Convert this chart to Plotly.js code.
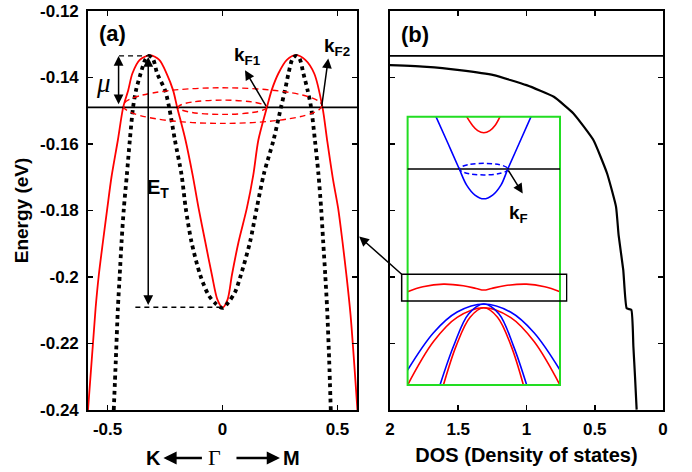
<!DOCTYPE html>
<html><head><meta charset="utf-8">
<script src="https://cdn.plot.ly/plotly-3.0.1.min.js"></script>
<style>html,body{margin:0;padding:0;background:#fff}</style>
</head><body><div id="chart" style="width:692px;height:472px"></div>
<script>
// ---------- Panel (a): band structure ----------
const redK = [-0.585,-0.552,-0.538,-0.520,-0.501,-0.483,-0.455,-0.432,-0.410,-0.392,-0.360,-0.315,-0.275,-0.243,-0.215,-0.197,-0.161,-0.130,-0.104,-0.075,-0.046,-0.022,0,0.022,0.041,0.070,0.106,0.134,0.156,0.193,0.214,0.243,0.280,0.320,0.360,0.399,0.435,0.455,0.481,0.503,0.522,0.539,0.557,0.587];
const redE = [-0.240,-0.2094,-0.1994,-0.1894,-0.1793,-0.1700,-0.1588,-0.1490,-0.1438,-0.1388,-0.1347,-0.1333,-0.1347,-0.1388,-0.1438,-0.1490,-0.1588,-0.1693,-0.1793,-0.1894,-0.1994,-0.2068,-0.2092,-0.2068,-0.1994,-0.1894,-0.1793,-0.1693,-0.1588,-0.1490,-0.1438,-0.1388,-0.1347,-0.1333,-0.1347,-0.1388,-0.1490,-0.1588,-0.1708,-0.1793,-0.1894,-0.1994,-0.2114,-0.240];

const dotK = [-0.473,-0.464,-0.455,-0.447,-0.439,-0.429,-0.416,-0.403,-0.389,-0.376,-0.356,-0.335,-0.320,-0.302,-0.284,-0.250,-0.232,-0.207,-0.178,-0.160,-0.135,-0.097,-0.061,-0.030,0,0.026,0.055,0.080,0.120,0.149,0.180,0.222,0.255,0.272,0.287,0.305,0.320,0.335,0.352,0.370,0.385,0.402,0.417,0.429,0.438,0.447,0.455,0.464,0.471];
const dotE = [-0.240,-0.225,-0.2094,-0.1994,-0.1894,-0.1793,-0.1693,-0.1588,-0.1490,-0.1438,-0.1388,-0.1345,-0.1335,-0.1345,-0.1388,-0.1438,-0.1490,-0.1588,-0.1693,-0.1793,-0.1894,-0.1994,-0.2054,-0.2080,-0.2093,-0.2076,-0.2045,-0.1994,-0.1894,-0.1793,-0.1690,-0.1588,-0.1488,-0.1438,-0.1388,-0.1343,-0.1335,-0.1343,-0.1388,-0.1438,-0.1488,-0.1588,-0.1688,-0.1793,-0.1894,-0.1994,-0.2094,-0.225,-0.240];

const EF = -0.149;           // Fermi level line
const bandTop = -0.1335;     // band maximum
const bandBottom = -0.2091;  // band minimum at Gamma
const muGuideK = [-0.45, -0.313];
const etGuideK = [-0.379, 0];
const muArrowK = -0.452;
const etArrowK = -0.323;
const ellipseHalfK = [0.432, 0.192];
const ellipseTopE = [-0.1431, -0.1468];
const ellipseBotE = [-0.1538, -0.1511];

const kRange = [-0.585, 0.585];
const kTicks = [-0.5, 0, 0.5];
const kTickText = ['-0.5', '0', '0.5'];
const eRange = [-0.24, -0.12];
const eTicks = [-0.24, -0.22, -0.2, -0.18, -0.16, -0.14, -0.12];
const eTickText = ['-0.24', '-0.22', '-0.2', '-0.18', '-0.16', '-0.14', '-0.12'];

// ---------- Panel (b): DOS ----------
const dosX = [2.0, 1.73, 1.49, 1.24, 1.0, 0.80, 0.656, 0.51, 0.41, 0.344, 0.325, 0.291, 0.266, 0.232, 0.217, 0.205, 0.193];
const dosE = [-0.1363, -0.1368, -0.1378, -0.1393, -0.1423, -0.1458, -0.1508, -0.1588, -0.1688, -0.1789, -0.1875, -0.1979, -0.2094, -0.2099, -0.2209, -0.2300, -0.2399];
const dosTicks = [2, 1.5, 1, 0.5, 0];
const dosTickText = ['2', '1.5', '1', '0.5', '0'];
const dosRange = [2, 0];

// ---------- Inset (schematic units) ----------
const insTopRedU = [-0.225, -0.15, -0.08, 0, 0.08, 0.15, 0.213];
const insTopRedV = [10, 9.68, 9.48, 9.40, 9.48, 9.68, 10];
const insBlueU = [-0.628, -0.471, -0.322, -0.225, -0.116, 0, 0.116, 0.225, 0.315, 0.465, 0.62];
const insBlueV = [10, 9.01, 8.05, 7.45, 7.08, 6.94, 7.08, 7.45, 8.05, 9.01, 10];
const insWavyU = [-1, -0.8, -0.53, -0.27, -0.1, 0, 0.1, 0.27, 0.56, 0.8, 1];
const insWavyV = [3.48, 3.66, 3.76, 3.70, 3.60, 3.54, 3.60, 3.70, 3.76, 3.66, 3.48];
const insBlueWideU = [-1, -0.66, -0.35, 0, 0.35, 0.66, 1];
const insBlueWideV = [0.56, 1.95, 2.72, 3.02, 2.72, 1.95, 0.56];
const insRedWideU = [-1, -0.66, -0.35, 0, 0.35, 0.66, 1];
const insRedWideV = [0, 1.62, 2.52, 2.88, 2.52, 1.62, 0];
const insBlueNarU = [-0.575, -0.39, -0.2, 0, 0.2, 0.39, 0.563];
const insBlueNarV = [0, 1.5, 2.65, 3.02, 2.65, 1.45, 0];
const insRedNarU = [-0.53, -0.36, -0.18, 0, 0.18, 0.36, 0.52];
const insRedNarV = [0, 1.48, 2.53, 2.88, 2.53, 1.45, 0];
const insEF = 8.05;
const insEllU = [-0.318, 0.318];
const insEllV = [7.83, 8.26];
const insBoxU = [-1, 1];
const insBoxV = [0, 10];
const zoomBoxU = [-1.078, 1.089];
const zoomBoxV = [3.13, 4.13];
const insKF = {tail:[0.31, 8.05], head:[0.511, 7.14], label:[0.449, 6.39]};

const FONT = 'Liberation Sans, Arial, sans-serif';
const SERIF = 'Liberation Serif, Times New Roman, serif';
const RED = '#ff0000', BLUE = '#0000ff', GREEN = '#22dd22';

const traces = [
  {x: redK, y: redE, xaxis:'x', yaxis:'y', mode:'lines', line:{color:RED, width:1.8, shape:'spline', smoothing:0.8}},
  {x: dotK, y: dotE, xaxis:'x', yaxis:'y', mode:'lines', line:{color:'#000', width:3.8, dash:'dot', shape:'spline', smoothing:0.8}},
  {x: dosX, y: dosE, xaxis:'x2', yaxis:'y2', mode:'lines', line:{color:'#000', width:2.2, shape:'spline', smoothing:0.4}},
  {x: insTopRedU, y: insTopRedV, xaxis:'x3', yaxis:'y3', mode:'lines', line:{color:RED, width:1.6, shape:'spline'}},
  {x: insBlueU, y: insBlueV, xaxis:'x3', yaxis:'y3', mode:'lines', line:{color:BLUE, width:1.6, shape:'spline'}},
  {x: insWavyU, y: insWavyV, xaxis:'x3', yaxis:'y3', mode:'lines', line:{color:RED, width:1.6, shape:'spline'}},
  {x: insBlueWideU, y: insBlueWideV, xaxis:'x3', yaxis:'y3', mode:'lines', line:{color:BLUE, width:1.6, shape:'spline'}},
  {x: insRedWideU, y: insRedWideV, xaxis:'x3', yaxis:'y3', mode:'lines', line:{color:RED, width:1.6, shape:'spline'}},
  {x: insBlueNarU, y: insBlueNarV, xaxis:'x3', yaxis:'y3', mode:'lines', line:{color:BLUE, width:1.6, shape:'spline'}},
  {x: insRedNarU, y: insRedNarV, xaxis:'x3', yaxis:'y3', mode:'lines', line:{color:RED, width:1.6, shape:'spline'}}
];

const shapes = [
  {type:'line', xref:'x', yref:'y', x0:kRange[0], x1:kRange[1], y0:EF, y1:EF, line:{color:'#000', width:1.6}},
  {type:'line', xref:'x', yref:'y', x0:muGuideK[0], x1:muGuideK[1], y0:bandTop, y1:bandTop, line:{color:'#000', width:1.4, dash:'5px,4px'}},
  {type:'line', xref:'x', yref:'y', x0:etGuideK[0], x1:etGuideK[1], y0:bandBottom, y1:bandBottom, line:{color:'#000', width:1.4, dash:'5px,4px'}},
  {type:'line', xref:'x2', yref:'y2', x0:dosRange[0], x1:dosRange[1], y0:bandTop, y1:bandTop, line:{color:'#000', width:1.6}},
  {type:'rect', xref:'x3', yref:'y3', x0:insBoxU[0], x1:insBoxU[1], y0:insBoxV[0], y1:insBoxV[1], line:{color:GREEN, width:2}},
  {type:'line', xref:'x3', yref:'y3', x0:insBoxU[0], x1:insBoxU[1], y0:insEF, y1:insEF, line:{color:'#000', width:1.5}},
  {type:'circle', xref:'x3', yref:'y3', x0:insEllU[0], x1:insEllU[1], y0:insEllV[0], y1:insEllV[1], line:{color:BLUE, width:1.5, dash:'5px,3px'}},
  {type:'rect', xref:'x3', yref:'y3', x0:zoomBoxU[0], x1:zoomBoxU[1], y0:zoomBoxV[0], y1:zoomBoxV[1], line:{color:'#000', width:1.5}}
];
for (let i = 0; i < ellipseHalfK.length; i++) {
  shapes.push({type:'circle', xref:'x', yref:'y', x0:-ellipseHalfK[i], x1:ellipseHalfK[i], y0:ellipseBotE[i], y1:ellipseTopE[i], line:{color:RED, width:1.4, dash:'6px,4px'}});
}

const bold = (size) => ({family:FONT, size:size, color:'#000', weight:700});
const arrowBase = {text:'', showarrow:true, arrowhead:2, arrowsize:1.3, arrowwidth:1.5, arrowcolor:'#000', standoff:0, startstandoff:0};
const yT = -0.1203;

const annotations = [
  {x:-0.478, y:-0.1268, xref:'x', yref:'y', text:'(a)', showarrow:false, font:bold(22)},
  {x:1.817, y:-0.127, xref:'x2', yref:'y2', text:'(b)', showarrow:false, font:bold(22)},
  {x:-0.516, y:-0.1418, xref:'x', yref:'y', text:'μ', showarrow:false, font:{family:SERIF, size:27, style:'italic', color:'#000'}},
  Object.assign({}, arrowBase, {x:muArrowK, y:bandTop, ax:muArrowK, ay:-0.1485, xref:'x', yref:'y', axref:'x', ayref:'y', arrowside:'end+start', startarrowhead:2, startarrowsize:1.3}),
  Object.assign({}, arrowBase, {x:etArrowK, y:-0.1338, ax:etArrowK, ay:-0.2089, xref:'x', yref:'y', axref:'x', ayref:'y', arrowside:'end+start', startarrowhead:2, startarrowsize:1.3}),
  {x:-0.279, y:-0.1733, xref:'x', yref:'y', text:'E<sub>T</sub>', showarrow:false, font:bold(20)},
  Object.assign({}, arrowBase, {x:0.098, y:-0.1378, ax:0.193, ay:EF, xref:'x', yref:'y', axref:'x', ayref:'y'}),
  {x:0.107, y:-0.1335, xref:'x', yref:'y', text:'k<sub>F1</sub>', showarrow:false, font:bold(19)},
  Object.assign({}, arrowBase, {x:0.46, y:-0.1343, ax:0.431, ay:EF, xref:'x', yref:'y', axref:'x', ayref:'y'}),
  {x:0.50, y:-0.1308, xref:'x', yref:'y', text:'k<sub>F2</sub>', showarrow:false, font:bold(19)},
  Object.assign({}, arrowBase, {x:insKF.head[0], y:insKF.head[1], ax:insKF.tail[0], ay:insKF.tail[1], xref:'x3', yref:'y3', axref:'x3', ayref:'y3'}),
  {x:insKF.label[0], y:insKF.label[1], xref:'x3', yref:'y3', text:'k<sub>F</sub>', showarrow:false, font:bold(19)},
  Object.assign({}, arrowBase, {x:zoomBoxU[0], y:zoomBoxV[1], ax:-44, ay:-39, xref:'x3', yref:'y3', arrowside:'start', startarrowhead:2, startarrowsize:1.3}),
  {x:-0.30, y:yT, xref:'x', yref:'paper', yanchor:'middle', text:'K', showarrow:false, font:bold(20)},
  Object.assign({}, arrowBase, {x:-0.257, y:yT, ax:40, ay:0, xref:'x', yref:'paper', arrowwidth:2.4, arrowsize:1.1}),
  {x:-0.036, y:yT, xref:'x', yref:'paper', yanchor:'middle', text:'Γ', showarrow:false, font:{family:SERIF, size:22, color:'#000'}},
  Object.assign({}, arrowBase, {x:0.25, y:yT, ax:-45, ay:0, xref:'x', yref:'paper', arrowwidth:2.4, arrowsize:1.1}),
  {x:0.298, y:yT, xref:'x', yref:'paper', yanchor:'middle', text:'M', showarrow:false, font:bold(20)}
];

const axBase = {showline:true, linewidth:1.8, linecolor:'#000', mirror:'ticks', ticks:'inside', ticklen:5, tickwidth:1.5, tickcolor:'#000', showgrid:false, zeroline:false, tickfont:bold(17)};

const layout = {
  width:692, height:472,
  margin:{l:88, r:29, t:11, b:62},
  paper_bgcolor:'#fff', plot_bgcolor:'rgba(0,0,0,0)',
  showlegend:false,
  font:{family:FONT, color:'#000'},
  xaxis: Object.assign({}, axBase, {domain:[0, 0.4678], range:kRange, tickvals:kTicks, ticktext:kTickText, anchor:'y', ticklabelstandoff:3}),
  yaxis: Object.assign({}, axBase, {domain:[0, 1], range:eRange, tickvals:eTicks, ticktext:eTickText, anchor:'x', ticklabelstandoff:4,
          title:{text:'Energy (eV)', font:bold(19), standoff:6}}),
  xaxis2: Object.assign({}, axBase, {domain:[0.5252, 1], range:dosRange, tickvals:dosTicks, ticktext:dosTickText, anchor:'y2', ticklabelstandoff:3,
          title:{text:'DOS (Density of states)', font:bold(20), standoff:10}}),
  yaxis2: Object.assign({}, axBase, {domain:[0, 1], range:eRange, tickvals:eTicks, showticklabels:false, anchor:'x2'}),
  xaxis3: {domain:[0.5426, 0.8341], range:[-1.1, 1.1], visible:false, anchor:'y3', fixedrange:true},
  yaxis3: {domain:[0.0491, 0.7486], range:[-0.2, 10.2], visible:false, anchor:'x3', fixedrange:true},
  shapes: shapes,
  annotations: annotations
};

Plotly.newPlot('chart', traces, layout, {displayModeBar:false, staticPlot:true});
</script>
</body></html>
